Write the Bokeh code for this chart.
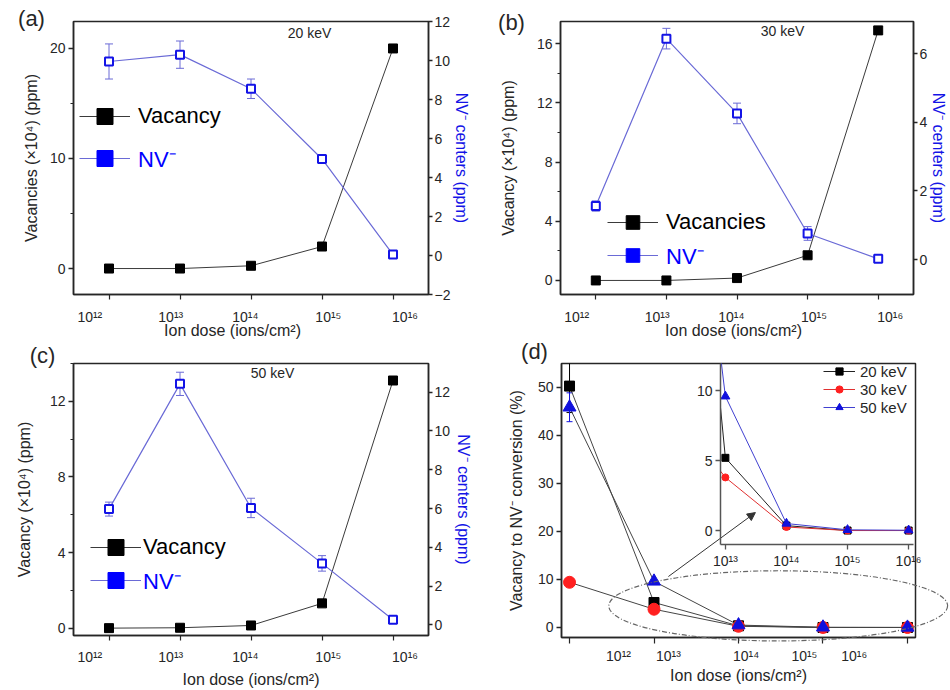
import numpy as np
from bokeh.plotting import figure
from bokeh.models import (Range1d, LinearAxis, FixedTicker, SingleIntervalTicker, Legend, LegendItem,
                          Whisker, TeeHead, Label, CustomJSTickFormatter, ColumnDataSource,
                          Column, Row, Arrow, NormalHead)
from bokeh.embed import file_html
from bokeh.resources import INLINE

FONT = "Liberation Sans"
INK = "#262626"
BLUE = "#1414e6"
NV_LINE = "#6a6ad6"
X_TITLE = "Ion dose (ions/cm²)"

# ---------------- data ----------------
DOSES = [1e12, 1e13, 1e14, 1e15, 1e16]
DOSE_LABELS = ["10¹²", "10¹³", "10¹⁴", "10¹⁵", "10¹⁶"]

VAC_20 = [0.0, 0.0, 0.25, 2.0, 20.0]
NV_20 = [9.95, 10.3, 8.55, 4.95, 0.05]
NV_20_ERR = [0.9, 0.7, 0.5, 0.15, 0.05]

VAC_30 = [0.0, 0.0, 0.16, 1.7, 16.9]
NV_30 = [1.56, 6.44, 4.26, 0.76, 0.02]
NV_30_ERR = [0.15, 0.3, 0.3, 0.2, 0.03]

VAC_50 = [0.0, 0.02, 0.14, 1.31, 13.1]
NV_50 = [5.97, 12.43, 6.03, 3.17, 0.26]
NV_50_ERR = [0.36, 0.6, 0.5, 0.4, 0.05]

CONV_20 = [50.2, 5.2, 0.35, 0.0, 0.0]
CONV_30 = [9.4, 3.8, 0.25, 0.0, 0.0]
CONV_50 = [45.8, 9.6, 0.5, 0.05, 0.02]
CONV_20_ERR = [5.5, 0.0, 0.0, 0.0, 0.0]
CONV_50_ERR = [3.0, 0.0, 0.0, 0.0, 0.0]
ENERGIES = ["20 keV", "30 keV", "50 keV"]

# where the original prints its dose tick labels (decade exponents)
ABC_LABEL_EXP = [11.73, 12.87, 13.92, 15.09, 16.17]
D_LABEL_POS = [12.58, 13.17, 14.09, 14.78, 15.37]


def fmt(pos, labs):
    return CustomJSTickFormatter(args=dict(pos=list(pos), labs=list(labs)), code="""
        for (let i = 0; i < pos.length; i++) {
            if (Math.abs(pos[i] - tick) <= 1e-6 * Math.abs(pos[i])) { return labs[i]; }
        }
        return "";
    """)


def style_axis(ax, label_color=INK, tick_out=5, minor_out=0, standoff=3, label_standoff=2,
               tick_size="14px", label_size="16px", line_color=INK):
    ax.axis_line_color = line_color
    ax.axis_line_width = 1.5
    ax.major_tick_line_color = line_color
    ax.major_tick_line_width = 1.3
    ax.minor_tick_line_color = line_color
    ax.minor_tick_line_width = 1.2
    ax.major_tick_in = 0
    ax.major_tick_out = tick_out
    ax.minor_tick_in = 0
    ax.minor_tick_out = minor_out
    ax.major_label_text_font = FONT
    ax.major_label_text_font_size = tick_size
    ax.major_label_text_color = INK
    ax.major_label_standoff = standoff
    ax.axis_label_text_font = FONT
    ax.axis_label_text_font_size = label_size
    ax.axis_label_text_font_style = "normal"
    ax.axis_label_text_color = label_color
    ax.axis_label_standoff = label_standoff


def add_label(p, text, xy, size, color=INK):
    p.add_layout(Label(x=xy[0], y=xy[1], x_units="screen", y_units="screen", text=text,
                       text_align="center", text_baseline="middle", text_font=FONT,
                       text_font_size=size, text_color=color))


def make_legend(items, loc, color, glyph_w, glyph_h, standoff, size="22px", spacing=0):
    return Legend(items=items, location=loc, label_text_color=color, label_text_font=FONT,
                  label_text_font_size=size, glyph_width=glyph_w, glyph_height=glyph_h,
                  label_standoff=standoff, padding=0, margin=0, spacing=spacing,
                  background_fill_alpha=0, border_line_alpha=0, label_height=16)


def fig(**kw):
    return figure(output_backend="svg", toolbar_location=None, frame_align=False, **kw)


def overlay(height, x_range=None, y_range=None):
    o = fig(width=475, height=height,
            x_range=x_range or Range1d(0, 475), y_range=y_range or Range1d(0, height),
            x_axis_location=None, y_axis_location=None, min_border=0)
    o.grid.visible = False
    o.outline_line_color = None
    o.background_fill_alpha = 0
    o.border_fill_alpha = 0
    o.styles = {"position": "absolute", "left": "0px", "top": "0px"}
    return o


def stack(height, *figs):
    return Column(children=list(figs), width=475, height=height, spacing=0,
                  styles={"position": "relative"})


def dose_panel(letter, energy, vac, nv, nv_err, vac_name, vac_title, vac_y, vac_step, nv_y,
               height, borders, standoffs, xstand, xtitle_xy, leg, energy_xy, letter_xy):
    left, right, top, bottom = borders
    p = fig(width=475, height=height, x_axis_type="log",
            x_range=Range1d(10 ** 11.5, 10 ** 16.5), y_range=Range1d(*vac_y),
            min_border_left=left, min_border_right=right,
            min_border_top=top, min_border_bottom=bottom)
    p.grid.visible = False
    p.outline_line_color = INK
    p.outline_line_width = 1.5
    p.extra_y_ranges = {"nv": Range1d(*nv_y)}

    lab_pos = [10 ** e for e in ABC_LABEL_EXP]
    xa = p.xaxis[0]
    xa.ticker = FixedTicker(ticks=lab_pos, minor_ticks=DOSES)
    xa.formatter = fmt(lab_pos, DOSE_LABELS)
    if xtitle_xy is None:
        xa.axis_label = X_TITLE
    style_axis(xa, tick_out=0, minor_out=5, standoff=xstand[0], label_standoff=xstand[1])

    ya = p.yaxis[0]
    ya.ticker = SingleIntervalTicker(interval=vac_step, num_minor_ticks=2)
    ya.axis_label = vac_title
    style_axis(ya, minor_out=3, label_standoff=standoffs[0])

    ra = LinearAxis(y_range_name="nv", ticker=SingleIntervalTicker(interval=2, num_minor_ticks=0),
                    axis_label="NV⁻ centers (ppm)")
    style_axis(ra, label_color=BLUE, tick_out=4, standoff=2, label_standoff=standoffs[1])
    p.add_layout(ra, "right")

    lo = [v - e for v, e in zip(nv, nv_err)]
    hi = [v + e for v, e in zip(nv, nv_err)]
    src = ColumnDataSource(dict(dose=DOSES, vac=vac, nv=nv, lo=lo, hi=hi))

    r_vl = p.line("dose", "vac", source=src, line_color="#3a3a3a", line_width=1)
    r_vs = p.scatter("dose", "vac", source=src, marker="square", size=9,
                     fill_color="black", line_color="black")
    r_nl = p.line("dose", "nv", source=src, y_range_name="nv", line_color=NV_LINE, line_width=1.2)
    p.add_layout(Whisker(source=src, base="dose", lower="lo", upper="hi", y_range_name="nv",
                         line_color=NV_LINE, line_width=1,
                         upper_head=TeeHead(size=8, line_color=NV_LINE, line_width=1),
                         lower_head=TeeHead(size=8, line_color=NV_LINE, line_width=1)))
    # legend-only key (zero size on the plot, legend sizes it from the glyph box)
    leg_mark = p.scatter("dose", "nv", source=src, y_range_name="nv", marker="square", size=0,
                         fill_color="#0000ff", line_color="#0000ff")
    p.scatter("dose", "nv", source=src, y_range_name="nv", marker="square", size=8,
              fill_color="white", line_color=BLUE, line_width=2)

    lx, ly1, ly2, gh, lstand = leg
    p.add_layout(make_legend([LegendItem(label=vac_name, renderers=[r_vl, r_vs])],
                             (lx, ly1), "black", 51, gh, lstand))
    p.add_layout(make_legend([LegendItem(label="NV⁻", renderers=[r_nl, leg_mark])],
                             (lx, ly2), "#0000ff", 51, gh, lstand))

    o = overlay(height)
    add_label(o, energy, energy_xy, "14px")
    add_label(o, letter, letter_xy, "22px")
    if xtitle_xy is not None:
        add_label(o, X_TITLE, xtitle_xy, "16px")
    return stack(height, p, o)


pa = dose_panel("(a)", "20 keV", VAC_20, NV_20, NV_20_ERR, "Vacancy", "Vacancies (×10⁴) (ppm)",
                vac_y=(-2.36, 22.45), vac_step=10, nv_y=(-2.0, 12.0), height=340,
                borders=(73, 47, 21, 46), standoffs=(7, 0), xstand=(9, 0), xtitle_xy=(232, 10),
                leg=(6, 158, 116, 40, 8), energy_xy=(309, 308), letter_xy=(31, 322))
pb = dose_panel("(b)", "30 keV", VAC_30, NV_30, NV_30_ERR, "Vacancies", "Vacancy (×10⁴) (ppm)",
                vac_y=(-0.95, 17.5), vac_step=4, nv_y=(-1.02, 6.94), height=340,
                borders=(85, 35, 21, 46), standoffs=(17, 0), xstand=(9, 0), xtitle_xy=(258, 10),
                leg=(47, 55, 22, 34, 8), energy_xy=(307, 310), letter_xy=(36, 318))
pc = dose_panel("(c)", "50 keV", VAC_50, NV_50, NV_50_ERR, "Vacancy", "Vacancy (×10⁴) (ppm)",
                vac_y=(-0.39, 14.0), vac_step=4, nv_y=(-0.55, 13.48), height=350,
                borders=(73, 47, 23, 53), standoffs=(14, 2), xstand=(8, 3), xtitle_xy=None,
                leg=(17, 68, 35, 40, 2), energy_xy=(272, 318), letter_xy=(42, 335))

# ---------------- panel (d) ----------------
D_XR = (11.905, 16.095)
D_YR = (-2.08, 54.9)
D_B = (86, 35, 23, 53)
exps = list(np.log10(DOSES))

pd_ = fig(width=475, height=350, x_range=Range1d(*D_XR), y_range=Range1d(*D_YR),
          min_border_left=D_B[0], min_border_right=D_B[1],
          min_border_top=D_B[2], min_border_bottom=D_B[3])
pd_.grid.visible = False
pd_.outline_line_color = INK
pd_.outline_line_width = 1.5
xa = pd_.xaxis[0]
xa.ticker = FixedTicker(ticks=D_LABEL_POS, minor_ticks=exps)
xa.formatter = fmt(D_LABEL_POS, DOSE_LABELS)
xa.axis_label = X_TITLE
style_axis(xa, tick_out=0, minor_out=6, standoff=4, label_standoff=0)
ya = pd_.yaxis[0]
ya.ticker = SingleIntervalTicker(interval=10, num_minor_ticks=0)
ya.axis_label = "Vacancy to NV⁻ conversion (%)"
style_axis(ya, label_standoff=10)

SERIES = [
    (CONV_20, CONV_20_ERR, "square", "black", "#222222", 10, 7),
    (CONV_30, None, "circle", "#ff2020", "#e03030", 12, 7),
    (CONV_50, CONV_50_ERR, "triangle", "#1010dd", "#4040d0", 13, 9),
]
for conv, err, mk, col, lcol, sz, isz in SERIES:
    s = ColumnDataSource(dict(x=exps, y=conv))
    pd_.line("x", "y", source=s, line_color="#444444", line_width=1)
    if err is not None:
        idx = [i for i, e in enumerate(err) if e > 0]
        es = ColumnDataSource(dict(x=[exps[i] for i in idx],
                                   lo=[conv[i] - err[i] for i in idx],
                                   hi=[conv[i] + err[i] for i in idx]))
        pd_.add_layout(Whisker(source=es, base="x", lower="lo", upper="hi", line_color=col,
                               line_width=1, upper_head=TeeHead(size=6, line_color=col),
                               lower_head=TeeHead(size=6, line_color=col)))
    pd_.scatter("x", "y", source=s, marker=mk, size=sz, fill_color=col, line_color=col)

pd_.add_layout(Arrow(x_start=13.17, y_start=10.6, x_end=14.2, y_end=23.9, line_color="#333333",
                     line_width=1, end=NormalHead(size=8, fill_color="#333333", line_color="#333333")))

# ---------------- inset ----------------
pi = fig(width=475, height=350, x_axis_type="log",
         x_range=Range1d(10 ** 12.92, 10 ** 16.08), y_range=Range1d(-1.0, 11.95),
         min_border_left=245, min_border_right=37, min_border_top=23, min_border_bottom=146)
pi.grid.visible = False
pi.outline_line_color = None
pi.background_fill_alpha = 0
pi.border_fill_alpha = 0
pi.styles = {"position": "absolute", "left": "0px", "top": "0px"}
ix = pi.xaxis[0]
ix.ticker = FixedTicker(ticks=DOSES[1:], minor_ticks=[])
ix.formatter = fmt(DOSES, DOSE_LABELS)
style_axis(ix, line_color="#555555")
iy = pi.yaxis[0]
iy.ticker = SingleIntervalTicker(interval=5, num_minor_ticks=0)
style_axis(iy, line_color="#555555")

items = []
for (conv, err, mk, col, lcol, sz, isz), name in zip(SERIES, ENERGIES):
    s = ColumnDataSource(dict(x=DOSES, y=conv))
    rl = pi.line("x", "y", source=s, line_color=lcol, line_width=1)
    rs = pi.scatter("x", "y", source=s, marker=mk, size=isz, fill_color=col, line_color=col)
    items.append(LegendItem(label=name, renderers=[rl, rs]))
pi.add_layout(make_legend(items, (103, 128), INK, 32, 18, 5, size="15px", spacing=0))

# ---------------- overlay: dotted ellipse (in d data units) and panel letter ----------------
kx = (475 - D_B[0] - D_B[1]) / (D_XR[1] - D_XR[0])
ky = (350 - D_B[2] - D_B[3]) / (D_YR[1] - D_YR[0])
po = overlay(350,
             x_range=Range1d(D_XR[0] - D_B[0] / kx, D_XR[1] + D_B[1] / kx),
             y_range=Range1d(D_YR[0] - D_B[3] / ky, D_YR[1] + D_B[2] / ky))
po.ellipse(x=[14.47], y=[4.5], width=[4.01], height=[14.6], fill_alpha=0,
           line_color="#666666", line_width=1.2, line_dash="5 2 1 2")
add_label(po, "(d)", (59, 339), "22px")

pdd = stack(350, pd_, pi, po)

layout = Column(children=[Row(children=[pa, pb], spacing=0), Row(children=[pc, pdd], spacing=0)],
                spacing=0)

open("out.html", "w").write(file_html(layout, INLINE, title="NV conversion"))
